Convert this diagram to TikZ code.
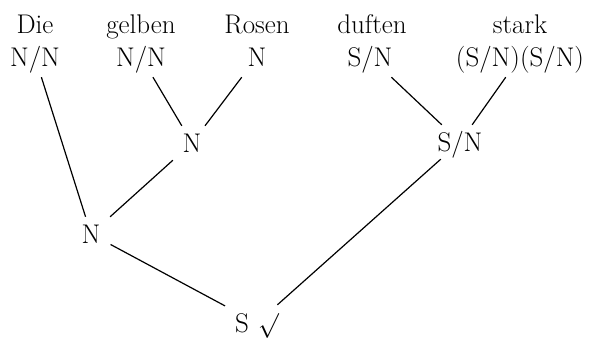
\documentclass[tikz,border=0pt]{standalone}
\begin{document}
\begin{tikzpicture}[x=1pt,y=-1pt,
  every node/.style={font=\fontsize{27}{32}\selectfont},
  word/.style={anchor=base,inner sep=0pt},
  cat/.style={anchor=base,inner xsep=6pt,inner ysep=11pt,text height=18pt,text depth=0pt},
  mid/.style={inner xsep=10pt,inner ysep=8pt,text height=18pt,text depth=0pt},
  edge/.style={line width=1.2pt}]
\useasboundingbox (0,0) rectangle (594,338);
% words
\node[word] (w1) at (35,33) {Die};
\node[word] (w2) at (141,33) {gelben};
\node[word] (w3) at (257,33) {Rosen};
\node[word] (w4) at (372,33) {duften};
\node[word] (w5) at (520,33) {stark};
% categories
\node[cat] (c1) at (35,66) {N/N};
\node[cat] (c2) at (141,66) {N/N};
\node[cat] (c3) at (257,66) {N};
\node[cat] (c4) at (370,66) {S/N};
\node[cat] (c5) at (520,66) {(S/N)(S/N)};
% derived
\node[mid] (n1) at (192,143) {N};
\node[mid] (sn) at (460,142) {S/N};
\node[mid] (n2) at (91,234) {N};
\node[mid,inner ysep=9pt] (s) at (257,323) {S\,\,$\surd$};
% connectors
\draw[edge] (c2) -- (n1);
\draw[edge] (c3) -- (n1);
\draw[edge] (c4) -- (sn);
\draw[edge] (c5) -- (sn);
\draw[edge] (c1) -- (n2);
\draw[edge] (n1) -- (n2);
\draw[edge] (n2) -- (s);
\draw[edge] (sn) -- (s);
\end{tikzpicture}
\end{document}
